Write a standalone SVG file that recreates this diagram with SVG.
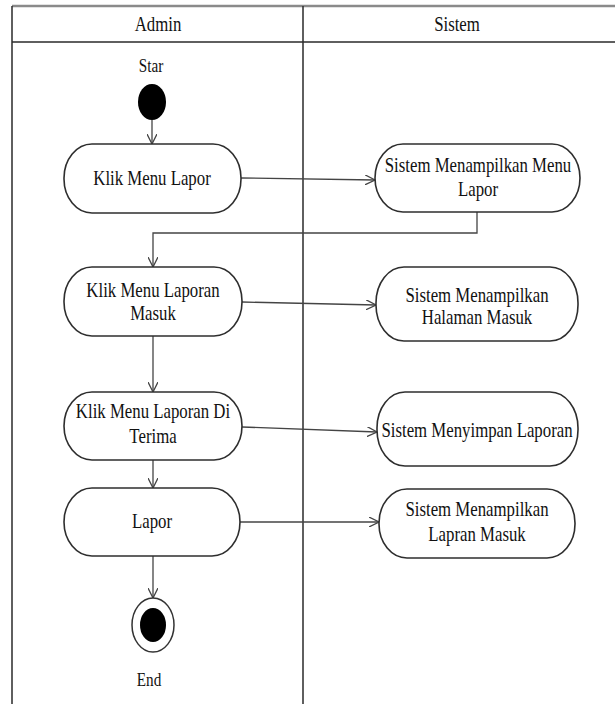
<svg xmlns="http://www.w3.org/2000/svg" width="615" height="704" viewBox="0 0 615 704">
  <defs>
    <style>
      .lane { stroke: #2a2a2a; stroke-width: 1.5; fill: none; }
      .lane-top { stroke: #8a8a8a; stroke-width: 2.5; fill: none; }
      .act { fill: #ffffff; stroke: #2e2e2e; stroke-width: 1.6; }
      .conn { stroke: #444444; stroke-width: 1.3; fill: none; marker-end: url(#open); }
      .lbl { font-family: "Liberation Serif", "Times New Roman", serif; font-size: 21px; fill: #111111; text-anchor: middle; }
      .small { font-size: 19px; }
    </style>
    <marker id="open" viewBox="0 0 10 10" refX="10" refY="5" markerWidth="10" markerHeight="10" markerUnits="userSpaceOnUse" orient="auto">
      <path d="M0,0 L10,5 L0,10" fill="none" stroke="#444444" stroke-width="1.3"/>
    </marker>
  </defs>

  <rect width="615" height="704" fill="#ffffff"/>

  <!-- swimlane frame -->
  <g id="lanes">
    <line class="lane-top" x1="12" y1="6" x2="615" y2="6"/>
    <line class="lane" x1="12" y1="6" x2="12" y2="704"/>
    <line class="lane" x1="12" y1="42" x2="615" y2="42" stroke-width="2"/>
    <line class="lane" x1="303" y1="6" x2="303" y2="704"/>
    <text class="lbl" transform="translate(158,31) scale(0.8,1)">Admin</text>
    <text class="lbl" transform="translate(457,31) scale(0.8,1)">Sistem</text>
  </g>

  <!-- connectors -->
  <g id="connectors">
    <line class="conn" x1="152" y1="120" x2="152" y2="144"/>
    <line class="conn" x1="241" y1="178" x2="375" y2="180"/>
    <polyline class="conn" points="477,212 477,233 153,233 153,267"/>
    <line class="conn" x1="242" y1="302" x2="376" y2="305"/>
    <line class="conn" x1="153" y1="336" x2="153" y2="392"/>
    <line class="conn" x1="242" y1="427" x2="377" y2="432"/>
    <line class="conn" x1="153" y1="460" x2="153" y2="488"/>
    <line class="conn" x1="240" y1="522" x2="379" y2="522"/>
    <line class="conn" x1="153" y1="556" x2="153" y2="598"/>
  </g>

  <g id="start">
    <text class="lbl small" transform="translate(151,72) scale(0.8,1)">Star</text>
    <ellipse cx="152" cy="102" rx="14" ry="18" fill="#000000"/>
  </g>

  <g id="klik-menu-lapor">
    <rect class="act" x="64" y="144" width="177" height="69" rx="28" ry="34"/>
    <text class="lbl" transform="translate(152,185) scale(0.8,1)">Klik Menu Lapor</text>
  </g>

  <g id="sistem-menu-lapor">
    <rect class="act" x="375" y="144" width="205" height="68" rx="28" ry="34"/>
    <text class="lbl" transform="translate(478,172) scale(0.8,1)">Sistem Menampilkan Menu</text>
    <text class="lbl" transform="translate(478,196) scale(0.8,1)">Lapor</text>
  </g>

  <g id="klik-laporan-masuk">
    <rect class="act" x="64" y="267" width="178" height="69" rx="28" ry="34"/>
    <text class="lbl" transform="translate(153,297) scale(0.8,1)">Klik Menu Laporan</text>
    <text class="lbl" transform="translate(153,320) scale(0.8,1)">Masuk</text>
  </g>

  <g id="sistem-halaman-masuk">
    <rect class="act" x="376" y="267" width="202" height="74" rx="28" ry="36"/>
    <text class="lbl" transform="translate(477,302) scale(0.8,1)">Sistem Menampilkan</text>
    <text class="lbl" transform="translate(477,324) scale(0.8,1)">Halaman Masuk</text>
  </g>

  <g id="klik-laporan-diterima">
    <rect class="act" x="64" y="392" width="178" height="68" rx="28" ry="34"/>
    <text class="lbl" transform="translate(153,418) scale(0.8,1)">Klik Menu Laporan Di</text>
    <text class="lbl" transform="translate(153,443) scale(0.8,1)">Terima</text>
  </g>

  <g id="sistem-simpan-laporan">
    <rect class="act" x="377" y="392" width="201" height="74" rx="28" ry="36"/>
    <text class="lbl" transform="translate(477,437) scale(0.8,1)">Sistem Menyimpan Laporan</text>
  </g>

  <g id="lapor">
    <rect class="act" x="64" y="488" width="176" height="68" rx="28" ry="34"/>
    <text class="lbl" transform="translate(152,528) scale(0.8,1)">Lapor</text>
  </g>

  <g id="sistem-lapran-masuk">
    <rect class="act" x="379" y="489" width="196" height="69" rx="28" ry="34"/>
    <text class="lbl" transform="translate(477,516) scale(0.8,1)">Sistem Menampilkan</text>
    <text class="lbl" transform="translate(477,541) scale(0.8,1)">Lapran Masuk</text>
  </g>

  <g id="end">
    <ellipse cx="153" cy="625" rx="21" ry="27" fill="#ffffff" stroke="#333333" stroke-width="1.5"/>
    <ellipse cx="153" cy="625" rx="13" ry="17" fill="#000000"/>
    <text class="lbl small" transform="translate(149,686) scale(0.8,1)">End</text>
  </g>
</svg>
